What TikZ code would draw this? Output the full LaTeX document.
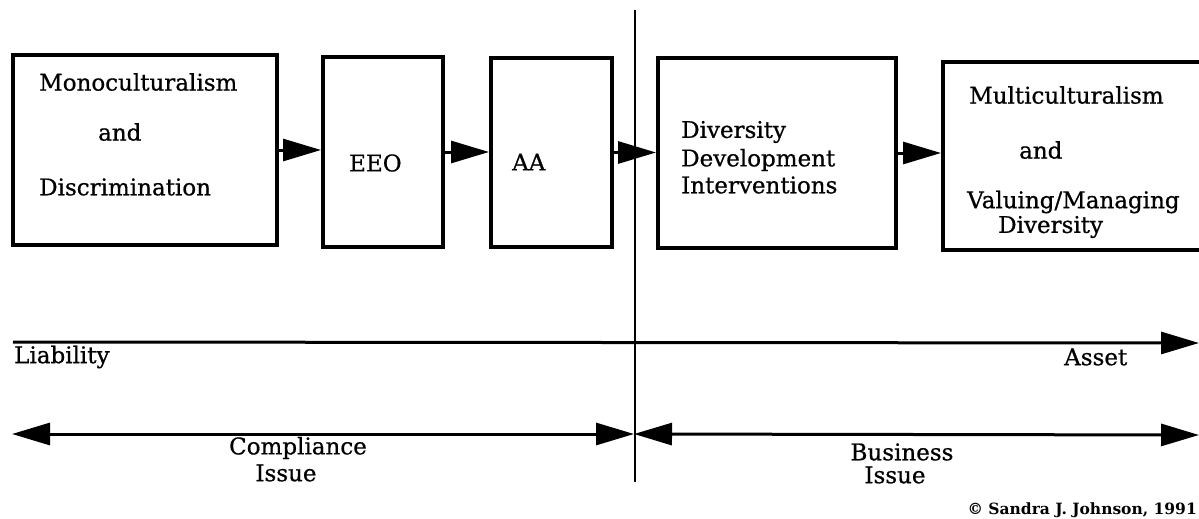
\documentclass[tikz,border=0pt]{standalone}
\usepackage{fontspec}
\setmainfont{DejaVu Serif}
\newfontfamily\boxfont{DejaVu Serif}[FakeBold=0.7]
\usepackage{tikz}
\usetikzlibrary{arrows.meta, positioning}

\begin{document}
\begin{tikzpicture}[x=1pt, y=-1pt, >={Triangle[length=38pt, width=22pt]},
    box/.style={draw, line width=4pt, inner sep=0pt},
    txt/.style={anchor=west, inner sep=0pt, font=\boxfont\fontsize{23}{27}\selectfont},
    ctxt/.style={txt, anchor=center},
    flow/.style={->, line width=3pt}]

  \useasboundingbox (0,0) rectangle (1199,519);

  % the five stages
  \node[box, minimum width=264pt, minimum height=190pt] (mono) at (145,150) {};
  \node[box, minimum width=120pt, minimum height=190pt] (eeo) at (383,152) {};
  \node[box, minimum width=121pt, minimum height=189pt] (aa) at (551.5,152.5) {};
  \node[box, minimum width=238pt, minimum height=190pt] (ddi) at (777,153) {};
  \node[box, minimum width=258pt, minimum height=188pt] (multi) at (1072,156) {};

  \node[txt] (mono1) at (39,82) {Monoculturalism};
  \node[txt] (mono2) at (98,132) {and};
  \node[txt] (mono3) at (39,187) {Discrimination};
  \node[txt] (eeotxt) at (349,163) {EEO};
  \node[txt] (aatxt) at (512,162) {AA};
  \node[txt] (ddi1) at (681,132) {Diversity};
  \node[txt] (ddi2) at (681,160) {Development};
  \node[txt] (ddi3) at (681,185) {Interventions};
  \node[txt] (multi1) at (969,95) {Multiculturalism};
  \node[txt] (multi2) at (1019,150) {and};
  \node[txt] (multi3) at (967,202) {Valuing/Managing};
  \node[txt] (multi4) at (998,227) {Diversity};

  \draw[flow] (mono.east) -- (mono.east-|eeo.west);
  \draw[flow] (eeo.east) -- (eeo.east-|aa.west);
  \draw[flow] (aa.east) -- (aa.east-|ddi.west);
  \draw[flow] (ddi.east) -- (ddi.east-|multi.west);

  % divider
  \coordinate (divtop) at (635,10);
  \coordinate (divbot) at (635,482);
  \draw[line width=2.5pt] (divtop) -- (divbot);

  % liability -> asset scale
  \coordinate (liab) at (13,342);
  \coordinate (asset) at (1199,343);
  \draw[flow] (liab) -- (asset);
  \node[txt] (liabtxt) at (14,357) {Liability};
  \node[txt] (assettxt) at (1064,357) {Asset};

  % compliance / business ranges
  \coordinate (cleft) at (12,434);
  \coordinate (split) at (634,434);
  \coordinate (bright) at (1199,435);
  \draw[<->, line width=3pt] (cleft) -- (split);
  \draw[<->, line width=3pt] (split) -- (bright);
  \node[ctxt] (comp1) at (298,448) {Compliance};
  \node[ctxt] (comp2) at (286,473) {Issue};
  \node[ctxt] (bus1) at (902,452) {Business};
  \node[ctxt] (bus2) at (895,475) {Issue};

  \node[anchor=east, inner sep=0pt, font=\fontsize{15.5}{18}\selectfont\bfseries]
    (copy) at (1197,510) {© Sandra J. Johnson, 1991};
\end{tikzpicture}
\end{document}
